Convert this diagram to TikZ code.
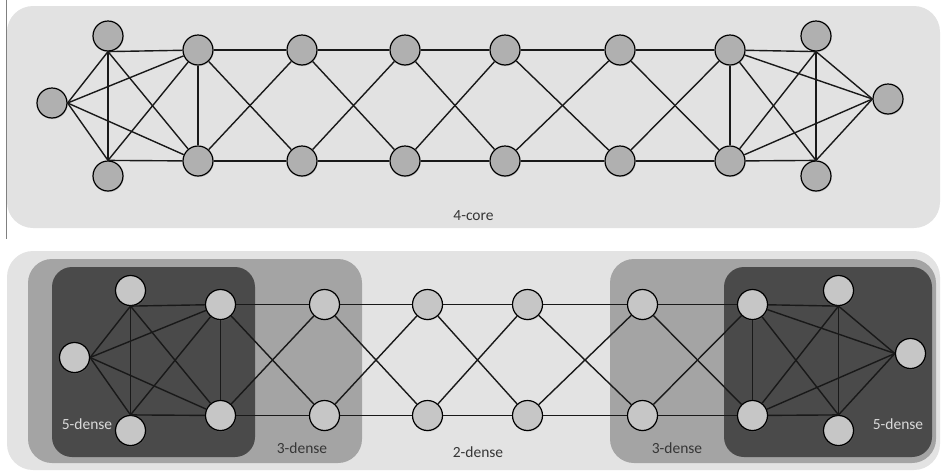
\documentclass[tikz,border=0pt]{standalone}
\usepackage{fontspec}
\setmainfont{Carlito}
\usetikzlibrary{shadows}

\definecolor{corepanel}{HTML}{E2E2E2}
\definecolor{twodense}{HTML}{E3E3E3}
\definecolor{threedense}{HTML}{A4A4A4}
\definecolor{fivedense}{HTML}{4A4A4A}
\definecolor{vtxtop}{HTML}{B0B0B0}
\definecolor{vtxbot}{HTML}{C6C6C6}
\definecolor{labeldark}{HTML}{363636}
\definecolor{labellight}{HTML}{DADADA}
\definecolor{rulegray}{HTML}{808080}

\tikzset{
  vtx/.style={circle, draw=black, line width=1.2pt, minimum size=30pt, inner sep=0pt,
    drop shadow={opacity=0.25, shadow xshift=0.6pt, shadow yshift=-1.2pt}},
  topvtx/.style={vtx, fill=vtxtop},
  botvtx/.style={vtx, fill=vtxbot},
  link/.style={line width=1.4pt, draw=black!90},
  lbl/.style={font=\fontsize{15.5}{18}\selectfont, text=labeldark, inner sep=0pt},
  lbllight/.style={lbl, text=labellight},
  region/.style={rounded corners=#1, draw=none},
}

% Two 5-cliques joined by a ladder of crossing links; #1 = name prefix, #2 = vertex style
\newcommand\cliqueladder[2]{%
  \node[#2] (#1-L)  at (52,103) {};
  \node[#2] (#1-TL) at (108,36) {};
  \node[#2] (#1-BL) at (108,176) {};
  \node[#2] (#1-TR) at (816,36) {};
  \node[#2] (#1-BR) at (816,176) {};
  \node[#2] (#1-R)  at (888,99) {};
  \foreach \k/\x in {1/198,2/302,3/405,4/505,5/620,6/730}{
    \node[#2] (#1-t\k) at (\x,50) {};
    \node[#2] (#1-b\k) at (\x,161) {};
  }
  \foreach \a/\b in {L.east/TL.south, L.east/BL.north, L.east/t1, L.east/b1,
      TL.south/BL.north, TL.south/t1, TL.south/b1, BL.north/t1, BL.north/b1, t1/b1,
      t6/b6, t6/TR.south, t6/BR.north, b6/TR.south, b6/BR.north, TR.south/BR.north,
      R.west/TR.south, R.west/BR.north, R.west/t6, R.west/b6}
    \draw[link] (#1-\a) -- (#1-\b);
  \foreach \k/\n in {1/2,2/3,3/4,4/5,5/6}{
    \draw[link] (#1-t\k) -- (#1-t\n);
    \draw[link] (#1-b\k) -- (#1-b\n);
    \draw[link] (#1-t\k) -- (#1-b\n);
    \draw[link] (#1-b\k) -- (#1-t\n);
  }%
}

\begin{document}
\begin{tikzpicture}[x=1pt, y=-1pt]
  \useasboundingbox (0,0) rectangle (943,472);

  % upper panel: 4-core
  \fill[corepanel, region=26pt] (7,6) rectangle (940,228);
  \draw[rulegray, line width=1.6pt] (6.5,0) -- (6.5,239);
  \cliqueladder{core}{topvtx}
  \node[lbl] (corelabel) at (473.5,216) {4-core};

  % lower panel: nested dense regions
  \fill[twodense, region=26pt] (7,251) rectangle (940,470);
  \fill[threedense, region=24pt] (28,259) rectangle (362,463);
  \fill[threedense, region=24pt] (610,259) rectangle (936,463);
  \fill[fivedense, region=20pt] (52,267) rectangle (255,457);
  \fill[fivedense, region=20pt] (724,267) rectangle (932,457);
  \begin{scope}[shift={(22.5,254.5)}]
    \cliqueladder{dense}{botvtx}
  \end{scope}
  \node[lbllight] (fiveleft)  at (87,424)  {5-dense};
  \node[lbl]      (threeleft) at (302,448) {3-dense};
  \node[lbl]      (twomid)    at (478,452) {2-dense};
  \node[lbl]      (threeright) at (677,448) {3-dense};
  \node[lbllight] (fiveright) at (898,424) {5-dense};
\end{tikzpicture}
\end{document}
